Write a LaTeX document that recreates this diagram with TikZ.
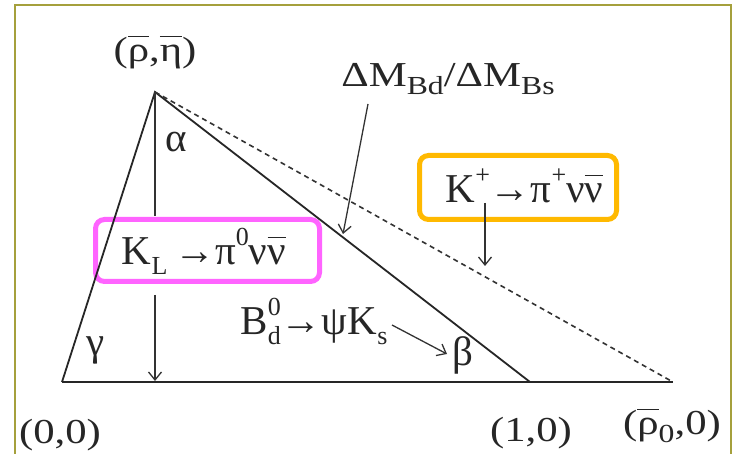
\documentclass[tikz,border=0pt]{standalone}
\usepackage{fontspec}
\setmainfont{Liberation Serif}
\newfontfamily\widefont[FakeStretch=1.22]{Liberation Serif}
\usetikzlibrary{arrows.meta}
\definecolor{framecol}{RGB}{165,160,60}
\definecolor{pinkcol}{RGB}{255,100,255}
\definecolor{orangecol}{RGB}{255,185,0}
\newcommand\mysub[1]{\raisebox{-0.22em}{\fontsize{26}{26}\selectfont #1}}
\newcommand\mysupr[1]{\raisebox{0.48em}{\fontsize{26}{26}\selectfont #1}}
\newcommand\mybar[1]{$\overline{\hbox{#1}\vphantom{\hbox{(}}}$}
\begin{document}
\begin{tikzpicture}[x=1pt,y=-1pt,
  tri/.style={line width=1.8pt,black!85},
  dashln/.style={line width=1.6pt,black!80,dash pattern=on 5pt off 4pt},
  vline/.style={line width=1.3pt,black!80},
  arr/.style={line width=1.3pt,black!80,-{Straight Barb[length=8pt,width=13pt]}},
  lab/.style={font=\widefont\fontsize{35}{40}\selectfont,inner sep=0pt,text=black!85},
  big/.style={font=\fontsize{41}{48}\selectfont,inner sep=0pt,text=black!85},
  pinkbox/.style={draw=pinkcol,line width=5pt,rounded corners=9pt},
  orangebox/.style={draw=orangecol,line width=5pt,rounded corners=9pt}]
\useasboundingbox (0,0) rectangle (734,454);
\fill[white] (0,0) rectangle (734,454);
\draw[framecol,line width=2pt] (15,454) -- (15,5) -- (731,5) -- (731,454);

% points
\coordinate (O) at (62,382);
\coordinate (A) at (155,92);
\coordinate (U) at (530,382);
\coordinate (R) at (673,382);

% boxes
\node[pinkbox,minimum width=224pt,minimum height=62pt] (klbox) at (207.5,250.5) {};
\node[orangebox,minimum width=197pt,minimum height=64pt] (kpbox) at (518,187.5) {};

% triangle
\draw[tri] (O) -- (A) -- (U);
\draw[tri] (O) -- (R);
\draw[dashln] (A) -- (R);

% vertical line from apex
\coordinate (V1) at (155,216);
\coordinate (V2) at (155,295);
\draw[vline] (A) -- (V1);
\draw[arr] (V2) -- (155,381);

% labels
\node[lab,anchor=base] (apexlab) at (155,62) {(\mybar{ρ},\mybar{η})};
\node[lab,anchor=base] (l00) at (60,443) {(0,0)};
\node[lab,anchor=base] (l10) at (531,441) {(1,0)};
\node[lab,anchor=base] (lr0) at (672,435) {(\mybar{ρ}\mysub{0},0)};
\node[lab,anchor=base] (dm) at (448,87) {ΔM\mysub{Bd}/ΔM\mysub{Bs}};

\node[big] (alpha) at (176,142) {α};
\node[big] (gamma) at (96,350) {γ};
\node[big] (beta) at (463,355) {β};

\node[big,anchor=base] (kl) at (204,265) {K\mysub{L}\,→π\mysupr{0}ν$\overline{\hbox{ν}\vphantom{\hbox{K}}}$};
\node[big,anchor=base] (kp) at (524.5,203) {K\mysupr{+}→π\mysupr{+}ν$\overline{\hbox{ν}\vphantom{\hbox{K}}}$};
\node[big,anchor=base] (bd) at (314,335) {B\rlap{\mysub{d}}\mysupr{0}→ψK\mysub{s}};

% pointer arrows
\coordinate (dmstart) at (368,104);
\coordinate (dmtip) at (343,234);
\draw[arr] (dmstart) -- (dmtip);
\coordinate (kpstart) at (485,203);
\coordinate (kptip) at (485,266);
\draw[arr] (kpstart) -- (kptip);
\coordinate (bdstart) at (392,325);
\coordinate (bdtip) at (447,354);
\draw[arr] (bdstart) -- (bdtip);
\end{tikzpicture}
\end{document}
